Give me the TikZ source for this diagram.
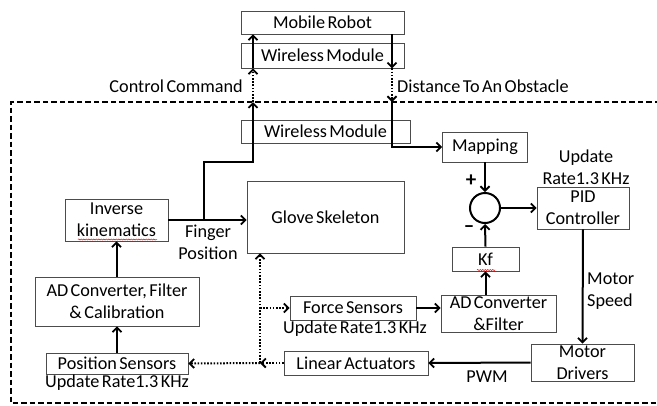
\documentclass[tikz,border=0pt]{standalone}
\usepackage{fontspec}
\setmainfont{Carlito}[WordSpace=0.6]
\usetikzlibrary{arrows.meta,decorations.pathmorphing}
\tikzset{
  box/.style={draw=black!70, line width=0.8pt, rectangle, inner sep=0pt, align=center, fill=white},
  arr/.style={line width=2pt, -{Straight Barb[length=4.5pt,width=9pt,line width=1.8pt]}},
  darr/.style={line width=2pt, dash pattern=on 1.6pt off 1.6pt, -{Straight Barb[length=4.5pt,width=9pt,line width=1.8pt]}},
  plain/.style={line width=2pt},
  lbl/.style={inner sep=0pt, align=center},
  squig/.style={red, line width=0.5pt, decorate, decoration={snake, amplitude=0.6pt, segment length=2.5pt}},
}
\begin{document}
\begin{tikzpicture}[x=1pt,y=-1pt, font=\fontsize{18.2}{22}\selectfont]
\useasboundingbox (0,0) rectangle (657,405);
% dashed border
\draw[line width=1.6pt, dash pattern=on 5.5pt off 3pt] (660,102) -- (11,102) -- (11,403) -- (660,403);

% boxes
\node[box, minimum width=163pt, minimum height=23pt] (mr) at (322.5,22.5) {Mobile Robot};
\node[box, minimum width=163pt, minimum height=25pt] (wm1) at (322.5,55.5) {Wireless Module};
\node[box, minimum width=169pt, minimum height=23pt] (wm2) at (325.5,131.5) {Wireless Module};
\node[box, minimum width=103pt, minimum height=42pt] (ik) at (116.5,220) {Inverse\\kinematics};
\node[box, minimum width=164pt, minimum height=49pt] (adc) at (117,301.5) {AD Converter, Filter\\\& Calibration};
\node[box, minimum width=142pt, minimum height=21pt] (ps) at (117,363.5) {Position Sensors};
\node[box, minimum width=157pt, minimum height=72pt] (glove) at (325.5,217) {Glove Skeleton};
\node[box, minimum width=85pt, minimum height=30pt] (map) at (485,147) {Mapping};
\node[draw, circle, line width=2pt, minimum size=30pt, inner sep=0pt] (sum) at (485,208) {};
\node[box, minimum width=92pt, minimum height=42pt] (pid) at (583,208) {PID\\Controller};
\node[box, minimum width=67pt, minimum height=24pt] (kf) at (485.5,259) {Kf};
\node[box, minimum width=126pt, minimum height=24pt] (fs) at (353,308) {Force Sensors};
\node[box, minimum width=115pt, minimum height=37pt] (adf) at (498.5,313.5) {AD Converter\\\&Filter};
\node[box, minimum width=144pt, minimum height=24pt] (la) at (356,363) {Linear Actuators};
\node[box, minimum width=103pt, minimum height=37pt] (md) at (582.5,362.5) {Motor\\Drivers};

% spell-check squiggles
\draw[squig] (78,239.5) -- (157,239.5);
\draw[squig] (477,270) -- (495,270);

% coordinates
\coordinate (br) at (204,220);
\coordinate (c1) at (253,162);
\coordinate (cu) at (253,102);
\coordinate (dd) at (392,102);
\coordinate (jn) at (260,363);

% finger position / control command
\draw[arr] (ik.east) -- (ik.east -| glove.west);
\draw[arr] (br) |- (c1) -- (cu);
\draw[darr] (cu) -- (cu |- wm1.south);
\draw[arr] (cu |- wm1.south) -- (cu |- mr.south);

% distance to obstacle
\draw[arr] (dd |- mr.south) -- (dd |- wm1.south);
\draw[darr] (dd |- wm1.south) -- (dd);
\draw[arr] (dd) |- (map.west);

% control loop
\draw[arr] (map.south) -- (sum.north);
\draw[arr] (sum.east) -- (pid.west);
\draw[arr] (kf.north) -- (sum.south);
\draw[arr] (adf.north -| kf.south) -- (kf.south);
\draw[arr] (fs.east) -- (fs.east -| adf.west);
\draw[arr] (pid.south) -- (md.north);
\draw[arr] (md.west) -- (la.east);

% sensing
\draw[darr] (la.west) -- (jn);
\draw[darr] (jn) -- (ps.east);
\draw[darr] (jn) -- (jn |- glove.south);
\draw[darr] (jn |- fs.west) -- (fs.west);
\draw[arr] (ps.north -| adc.south) -- (adc.south);
\draw[arr] (adc.north -| ik.south) -- (ik.south);

% labels
\node[lbl, anchor=east] (lcc) at (243,86) {Control Command};
\node[lbl, anchor=west] (ldo) at (397,86) {Distance To An Obstacle};
\node[lbl] (lfp) at (208,242) {Finger\\Position};
\node[lbl] (lur1) at (586,167) {Update\\Rate1.3 KHz};
\node[lbl, anchor=west, align=left] (lms) at (587,291.5) {Motor\\Speed};
\node[lbl] (lpwm) at (487,377) {PWM};
\node[lbl] (lur2) at (117,383) {Update Rate1.3 KHz};
\node[lbl] (lur3) at (355,329) {Update Rate1.3 KHz};
\node[lbl, font=\fontsize{21}{22}\selectfont\bfseries] (lplus) at (471,181) {+};
\node[lbl, font=\fontsize{21}{22}\selectfont\bfseries] (lminus) at (469,229) {\textendash};
\end{tikzpicture}
\end{document}
